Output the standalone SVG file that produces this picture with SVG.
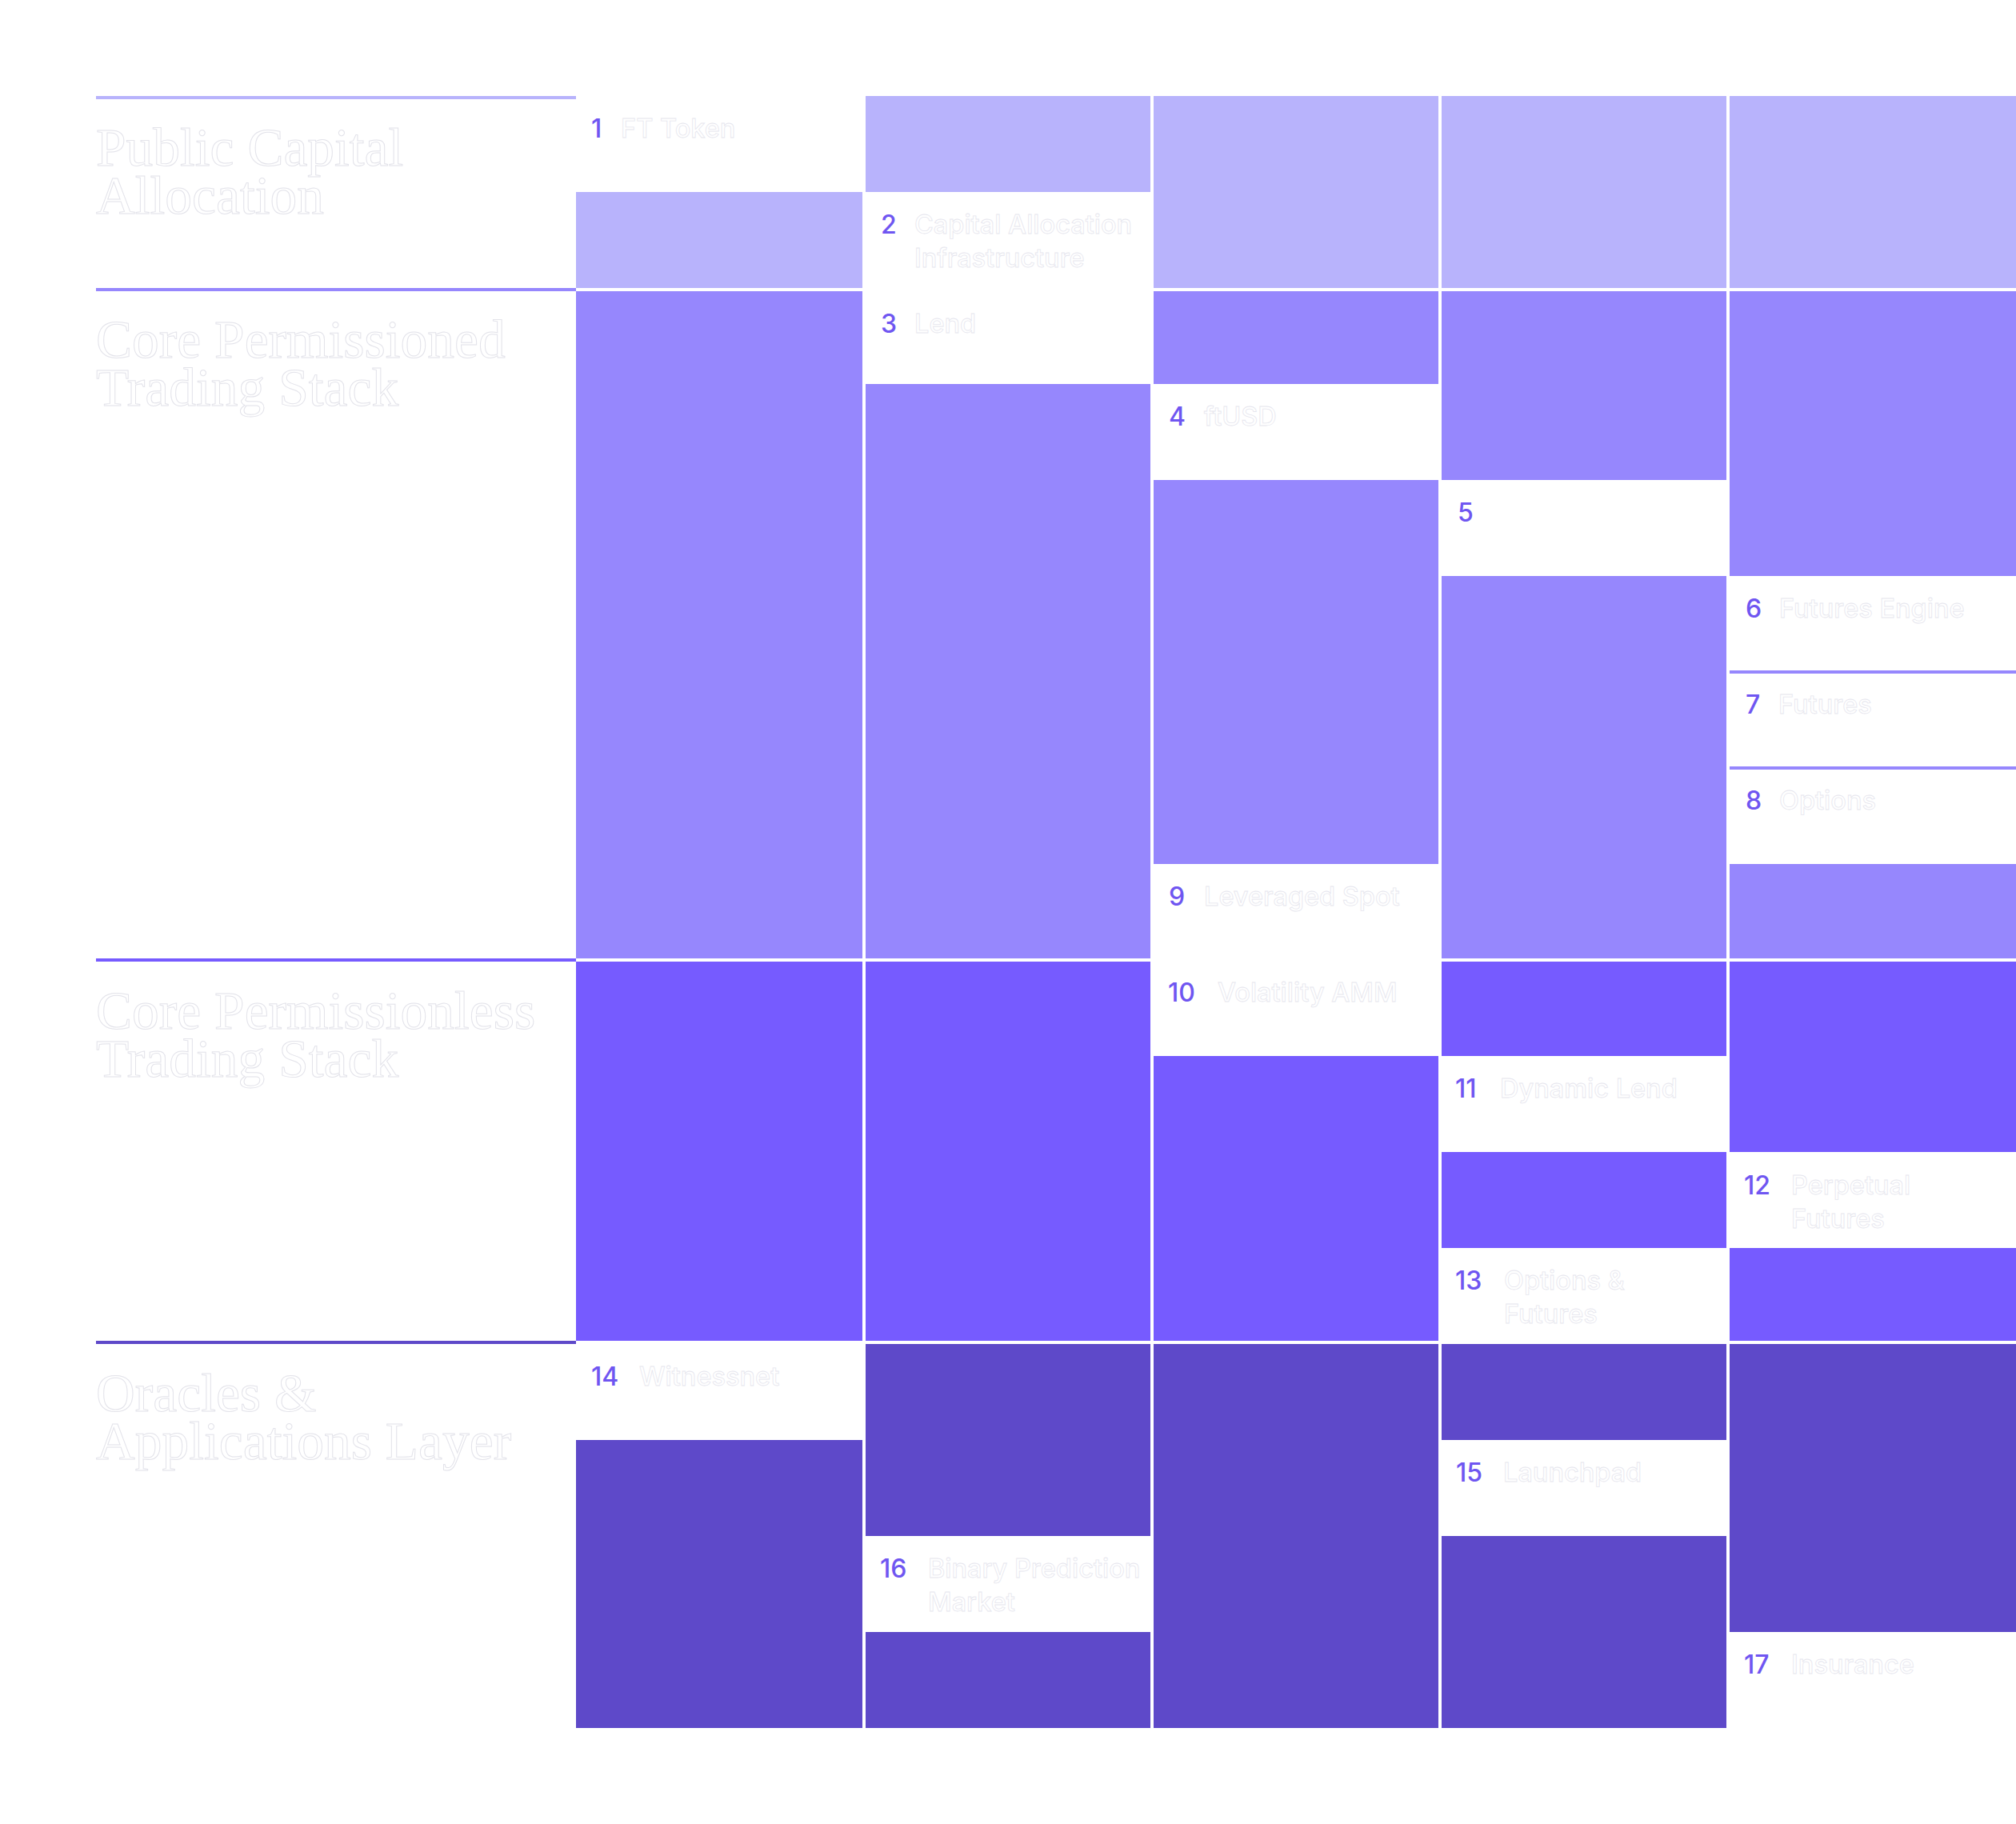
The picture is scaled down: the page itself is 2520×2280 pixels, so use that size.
<svg xmlns="http://www.w3.org/2000/svg" width="2520" height="2280" viewBox="0 0 2520 2280">
<style>
.bg{fill:#ffffff}
.a{fill:#b8b3fc}.b{fill:#9687fd}.c{fill:#765bff}.d{fill:#5e49c9}
.hdr{font-family:"Liberation Serif",serif;font-size:67.5px;fill:#ffffff;stroke:#e3e3ea;stroke-width:1}
.num{font-family:Inter,"Liberation Sans",sans-serif;font-size:32px;font-weight:500;fill:#6f56f1}
.lbl{font-family:Inter,"Liberation Sans",sans-serif;font-size:32.5px;font-weight:500;fill:#ffffff;stroke:#e6e6ee;stroke-width:0.8}
</style>
<rect class="bg" x="0" y="0" width="2520" height="2280"/>

<g id="section-headers">
  <g id="hdr-public-capital">
    <rect class="a" x="120" y="120" width="600" height="4"/>
    <text class="hdr" x="120" y="207">Public Capital<tspan x="120" dy="60">Allocation</tspan></text>
  </g>
  <g id="hdr-core-permissioned">
    <rect class="b" x="120" y="360" width="600" height="4"/>
    <text class="hdr" x="120" y="447">Core Permissioned<tspan x="120" dy="60">Trading Stack</tspan></text>
  </g>
  <g id="hdr-core-permissionless">
    <rect class="c" x="120" y="1198" width="600" height="4"/>
    <text class="hdr" x="120" y="1286">Core Permissionless<tspan x="120" dy="60">Trading Stack</tspan></text>
  </g>
  <g id="hdr-oracles">
    <rect class="d" x="120" y="1676" width="600" height="4"/>
    <text class="hdr" x="120" y="1764">Oracles &amp;<tspan x="120" dy="60">Applications Layer</tspan></text>
  </g>
</g>

<g id="blocks">
  <!-- Section A: Public Capital Allocation -->
  <rect class="a" x="720" y="240" width="358" height="120"/>
  <rect class="a" x="1082" y="120" width="356" height="120"/>
  <rect class="a" x="1442" y="120" width="356" height="240"/>
  <rect class="a" x="1802" y="120" width="356" height="240"/>
  <rect class="a" x="2162" y="120" width="358" height="240"/>
  <!-- Section B: Core Permissioned -->
  <rect class="b" x="720" y="364" width="358" height="834"/>
  <rect class="b" x="1082" y="480" width="356" height="718"/>
  <rect class="b" x="1442" y="364" width="356" height="116"/>
  <rect class="b" x="1442" y="600" width="356" height="480"/>
  <rect class="b" x="1802" y="364" width="356" height="236"/>
  <rect class="b" x="1802" y="720" width="356" height="478"/>
  <rect class="b" x="2162" y="364" width="358" height="356"/>
  <rect class="b" x="2162" y="838" width="358" height="4"/>
  <rect class="b" x="2162" y="958" width="358" height="4"/>
  <rect class="b" x="2162" y="1080" width="358" height="118"/>
  <!-- Section C: Core Permissionless -->
  <rect class="c" x="720" y="1202" width="358" height="474"/>
  <rect class="c" x="1082" y="1202" width="356" height="474"/>
  <rect class="c" x="1442" y="1320" width="356" height="356"/>
  <rect class="c" x="1802" y="1202" width="356" height="118"/>
  <rect class="c" x="1802" y="1440" width="356" height="120"/>
  <rect class="c" x="2162" y="1202" width="358" height="238"/>
  <rect class="c" x="2162" y="1560" width="358" height="116"/>
  <!-- Section D: Oracles & Applications -->
  <rect class="d" x="720" y="1800" width="358" height="360"/>
  <rect class="d" x="1082" y="1680" width="356" height="240"/>
  <rect class="d" x="1082" y="2040" width="356" height="120"/>
  <rect class="d" x="1442" y="1680" width="356" height="480"/>
  <rect class="d" x="1802" y="1680" width="356" height="120"/>
  <rect class="d" x="1802" y="1920" width="356" height="240"/>
  <rect class="d" x="2162" y="1680" width="358" height="360"/>
</g>

<g id="connectors"></g>

<g id="item-1"><text class="num" x="739" y="172">1</text><text class="lbl" x="776" y="172">FT Token</text></g>
<g id="item-2"><text class="num" x="1101" y="292">2</text><text class="lbl" x="1143" y="292">Capital Allocation<tspan x="1143" dy="42">Infrastructure</tspan></text></g>
<g id="item-3"><text class="num" x="1101" y="416">3</text><text class="lbl" x="1143" y="416">Lend</text></g>
<g id="item-4"><text class="num" x="1461" y="532">4</text><text class="lbl" x="1505" y="532">ftUSD</text></g>
<g id="item-5"><text class="num" x="1822" y="652">5</text></g>
<g id="item-6"><text class="num" x="2182" y="772">6</text><text class="lbl" x="2224" y="772">Futures Engine</text></g>
<g id="item-7"><text class="num" x="2182" y="892">7</text><text class="lbl" x="2223" y="892">Futures</text></g>
<g id="item-8"><text class="num" x="2182" y="1012">8</text><text class="lbl" x="2224" y="1012">Options</text></g>
<g id="item-9"><text class="num" x="1461" y="1132">9</text><text class="lbl" x="1505" y="1132">Leveraged Spot</text></g>
<g id="item-10"><text class="num" x="1460" y="1252">10</text><text class="lbl" x="1522" y="1252">Volatility AMM</text></g>
<g id="item-11"><text class="num" x="1819" y="1372">11</text><text class="lbl" x="1875" y="1372">Dynamic Lend</text></g>
<g id="item-12"><text class="num" x="2180" y="1493">12</text><text class="lbl" x="2239" y="1493">Perpetual<tspan x="2239" dy="42">Futures</tspan></text></g>
<g id="item-13"><text class="num" x="1819" y="1612">13</text><text class="lbl" x="1880" y="1612">Options &amp;<tspan x="1880" dy="42">Futures</tspan></text></g>
<g id="item-14"><text class="num" x="739" y="1732">14</text><text class="lbl" x="799" y="1732">Witnessnet</text></g>
<g id="item-15"><text class="num" x="1820" y="1852">15</text><text class="lbl" x="1879" y="1852">Launchpad</text></g>
<g id="item-16"><text class="num" x="1100" y="1972">16</text><text class="lbl" x="1160" y="1972">Binary Prediction<tspan x="1160" dy="42">Market</tspan></text></g>
<g id="item-17"><text class="num" x="2180" y="2092">17</text><text class="lbl" x="2239" y="2092">Insurance</text></g>
</svg>
